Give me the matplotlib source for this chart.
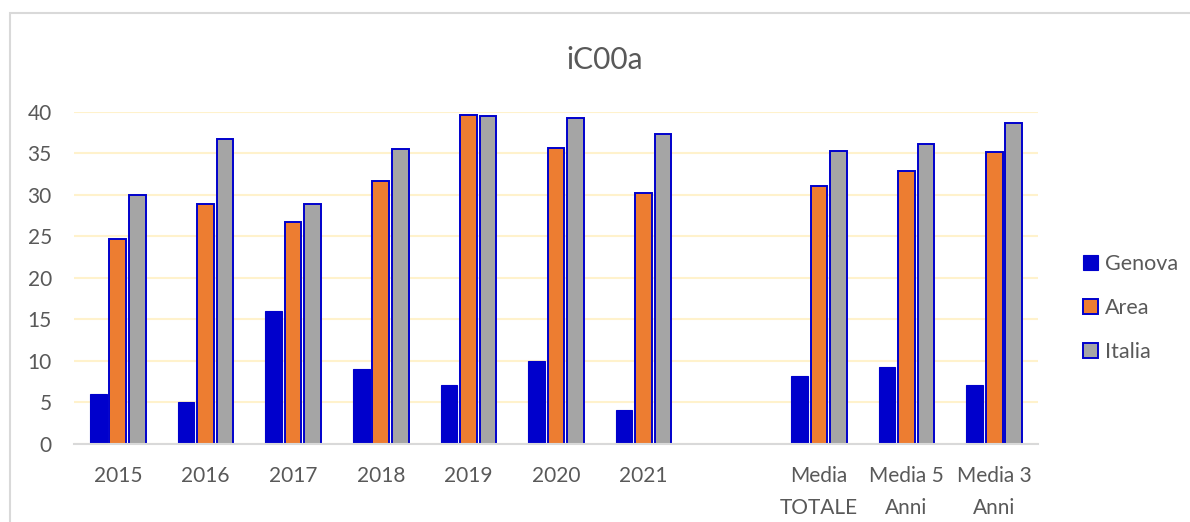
import numpy as np
import matplotlib
matplotlib.use("Agg")
import matplotlib.pyplot as plt
from matplotlib.patches import Rectangle

plt.rcParams['font.family'] = ['Lato', 'DejaVu Sans']

categories = ["2015", "2016", "2017", "2018", "2019", "2020", "2021", "",
              "Media\nTOTALE", "Media 5\nAnni", "Media 3\nAnni"]
genova = [6.0, 5.0, 16.0, 9.0, 7.0, 10.0, 4.0, np.nan, 8.1, 9.2, 7.0]
area = [24.7, 28.9, 26.7, 31.6, 39.6, 35.6, 30.2, np.nan, 31.0, 32.8, 35.1]
italia = [29.9, 36.7, 28.9, 35.5, 39.5, 39.2, 37.3, np.nan, 35.3, 36.1, 38.6]
series_names = ["Genova", "Area", "Italia"]

text_col = '#595959'
edge_col = '#0000CC'

fig = plt.figure(figsize=(11.9, 5.22), dpi=100)
ax = fig.add_axes([74/1190, 1-443.5/522, (1038-74)/1190, (443.5-111.7)/522])

x = np.arange(len(categories))
w = 0.19
off = 0.2226
ax.bar(x - off, genova, w, color='#0000CC', edgecolor=edge_col, linewidth=0.8,
       label=series_names[0], zorder=3)
ax.bar(x, area, w, color='#ED7D31', edgecolor=edge_col, linewidth=1.4,
       label=series_names[1], zorder=3)
ax.bar(x + off, italia, w, color='#A5A5A5', edgecolor=edge_col, linewidth=1.4,
       label=series_names[2], zorder=3)

ax.set_xlim(-0.5, len(categories) - 0.5)
ax.set_ylim(0, 40)
ax.set_yticks(range(0, 41, 5))
ax.set_xticks(x)
ax.set_xticklabels(categories, linespacing=1.75)
ax.tick_params(axis='both', length=0, labelsize=15, labelcolor=text_col)
ax.tick_params(axis='y', pad=16)
ax.tick_params(axis='x', pad=16)
ax.grid(axis='y', color='#FFF2CC', linewidth=1.5, zorder=0)
for s in ['top', 'right', 'left']:
    ax.spines[s].set_visible(False)
ax.spines['bottom'].set_color('#D9D9D9')
ax.spines['bottom'].set_linewidth(1.5)
ax.spines['bottom'].set_zorder(4)

fig.text(605/1190, 1-60/522, "iC00a", ha='center', va='center',
         fontsize=21.5, color=text_col)

fig.legend(loc='center left', bbox_to_anchor=(1064/1190, 1-308/522),
           frameon=False, fontsize=15.5, labelcolor=text_col,
           handlelength=0.7, handleheight=0.7, handletextpad=0.3,
           labelspacing=1.1)

fig.patches.append(Rectangle((10/1190, -0.1), 1.2, 0.1 + (522-13)/522,
                             transform=fig.transFigure, fill=False,
                             edgecolor='#D9D9D9', linewidth=1.5))

fig.savefig('out.png', dpi=100)
